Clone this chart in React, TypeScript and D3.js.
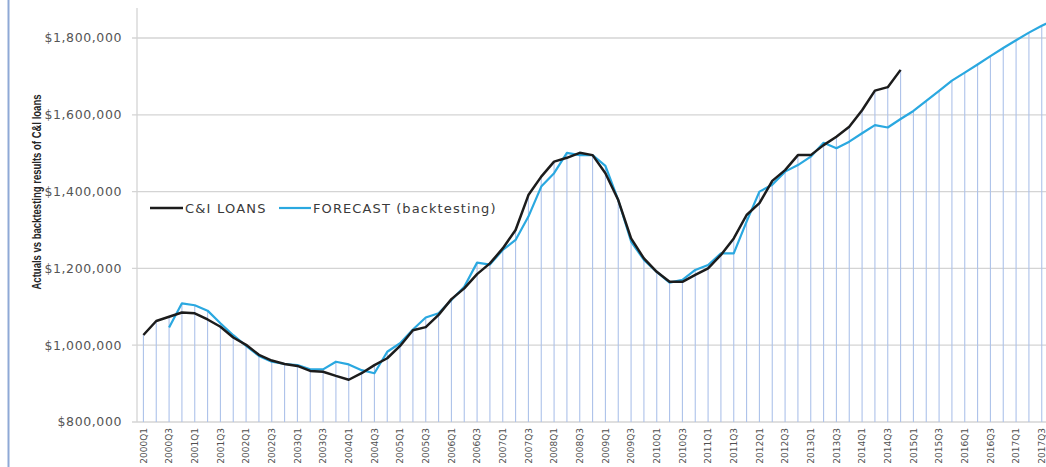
import React from "react";
import * as d3 from "d3";

const years = d3.range(2000, 2018);
const quarters: string[] = years.flatMap((y) => [1, 2, 3, 4].map((q) => `${y}Q${q}`));

const actualLoans: (number | null)[] = [
  1026500, 1063000, 1074000, 1085000, 1083000, 1067000, 1048000, 1020000,
  1001000, 975000, 960000, 951000, 946000, 933000, 931000, 920000,
  910000, 927000, 948000, 966000, 998000, 1039000, 1047000, 1079000,
  1120000, 1148000, 1185000, 1213000, 1252000, 1300000, 1391000, 1439000,
  1478000, 1488000, 1501000, 1495000, 1448000, 1378000, 1278000, 1226000,
  1191000, 1165000, 1165000, 1183000, 1200000, 1235000, 1278000, 1339000,
  1370000, 1428000, 1456000, 1495000, 1495000, 1521000, 1543000, 1569000,
  1612000, 1663000, 1672000, 1717000,
];

const forecastBacktest: (number | null)[] = [
  null, null, 1046000, 1109000, 1104000, 1090000, 1057000, 1026000,
  998000, 972000, 957000, 951000, 948000, 937000, 937000, 957000,
  950000, 935000, 927000, 983000, 1005000, 1041000, 1072000, 1083000,
  1118000, 1152000, 1215000, 1210000, 1248000, 1274000, 1335000, 1413000,
  1448000, 1501000, 1495000, 1495000, 1467000, 1378000, 1270000, 1222000,
  1191000, 1163000, 1170000, 1196000, 1209000, 1239000, 1239000, 1322000,
  1400000, 1418000, 1452000, 1469000, 1491000, 1527000, 1513000, 1530000,
  1552000, 1573000, 1567000, 1589000, 1610000, 1636000, 1662000, 1689000,
  1710000, 1731000, 1753000, 1774000, 1794000, 1814000, 1832000, 1848000,
];

const yTicks = [800000, 1000000, 1200000, 1400000, 1600000, 1800000];
const xTickLabels = quarters.filter((_, i) => i % 2 === 0);

const W = 1046;
const H = 467;
const plotLeft = 137;
const plotRight = 1061;
const plotTop = 8;
const plotBottom = 422;

export default function App() {
  const x = d3.scalePoint<string>().domain(quarters).range([plotLeft, plotRight]).padding(0.5);
  const y = d3.scaleLinear().domain([800000, 1800000]).range([plotBottom, 38]);
  const fmt = (v: number) => "$" + d3.format(",")(v);

  const lineGen = d3
    .line<number | null>()
    .defined((d) => d != null)
    .x((_, i) => x(quarters[i]) as number)
    .y((d) => y(d as number));

  const dropTops = quarters.map((_, i) => {
    const vals = [actualLoans[i], forecastBacktest[i]].filter((v) => v != null) as number[];
    return vals.length ? Math.max(...vals) : null;
  });

  const font = "'DejaVu Sans', 'Open Sans', sans-serif";

  return (
    <svg
      width={W}
      height={H}
      style={{ position: "absolute", left: 0, top: 0, background: "#fff" }}
      fontFamily={font}
    >
      <rect x={0} y={0} width={W} height={H} fill="#fff" />
      {/* page left border */}
      <line x1={8.5} x2={8.5} y1={0} y2={H} stroke="#8fa9d6" strokeWidth={2} />

      {/* gridlines */}
      {yTicks.map((t) => (
        <line key={t} x1={plotLeft - 5} x2={W} y1={y(t)} y2={y(t)} stroke="#d4d4d4" strokeWidth={1.3} />
      ))}
      {/* y axis line */}
      <line x1={plotLeft} x2={plotLeft} y1={plotTop} y2={plotBottom} stroke="#d4d4d4" strokeWidth={1.3} />

      {/* drop lines */}
      {quarters.map((q, i) =>
        dropTops[i] != null ? (
          <line
            key={q}
            x1={x(q)}
            x2={x(q)}
            y1={plotBottom}
            y2={y(dropTops[i] as number)}
            stroke="#adc2ea"
            strokeWidth={1.1}
          />
        ) : null
      )}

      {/* series */}
      <path d={lineGen(forecastBacktest) || ""} fill="none" stroke="#2aa8e0" strokeWidth={2.2} strokeLinejoin="round" />
      <path d={lineGen(actualLoans) || ""} fill="none" stroke="#1c1c1c" strokeWidth={2.5} strokeLinejoin="round" />

      {/* y tick labels */}
      {yTicks.map((t) => (
        <text key={t} x={122} y={y(t)} dy="0.35em" textAnchor="end" fontSize={12.5} fill="#555" letterSpacing={0.6}>
          {fmt(t)}
        </text>
      ))}

      {/* x tick labels */}
      {xTickLabels.map((q) => (
        <text
          key={q}
          transform={`translate(${x(q)},428) rotate(-90)`}
          dy="0.35em"
          textAnchor="end"
          fontSize={9}
          fill="#505050"
        >
          {q}
        </text>
      ))}

      {/* y axis title */}
      <text
        transform={`translate(37,192) rotate(-90)`}
        dy="0.35em"
        textAnchor="middle"
        fontSize={12}
        fontWeight="bold"
        fill="#262626"
        fontFamily="'Liberation Sans', Arial, sans-serif"
        textLength={195}
        lengthAdjust="spacingAndGlyphs"
      >
        Actuals vs backtesting results of C&amp;I loans
      </text>

      {/* legend */}
      <line x1={150} x2={183} y1={208} y2={208} stroke="#1c1c1c" strokeWidth={2.5} />
      <text x={185} y={208} dy="0.35em" fontSize={13} fill="#3a3a3a" letterSpacing={1.2}>
        C&amp;I LOANS
      </text>
      <line x1={279} x2={311} y1={208} y2={208} stroke="#2aa8e0" strokeWidth={2.2} />
      <text x={313} y={208} dy="0.35em" fontSize={13} fill="#3a3a3a" letterSpacing={1.1}>
        FORECAST (backtesting)
      </text>
    </svg>
  );
}
